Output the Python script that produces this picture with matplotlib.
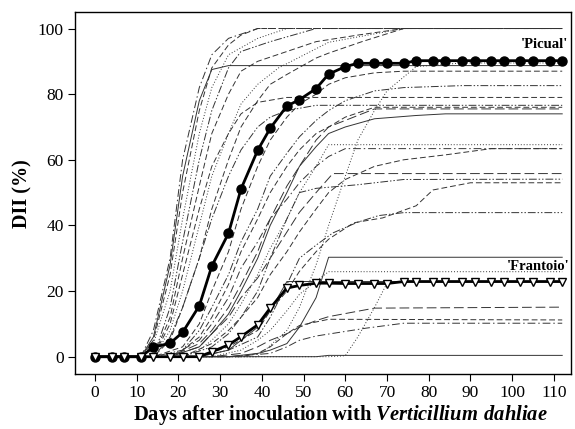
import matplotlib
matplotlib.use("Agg")
import matplotlib.pyplot as plt

plt.rcParams['font.family'] = ['Liberation Serif', 'DejaVu Serif']
plt.rcParams['mathtext.fontset'] = 'custom'
plt.rcParams['mathtext.rm'] = 'Liberation Serif'
plt.rcParams['mathtext.bfit'] = 'Liberation Serif:italic:bold'

# sampling days of the two highlighted cultivars
days = [0, 4, 7, 11, 14, 18, 21, 25, 28, 32, 35, 39, 42, 46, 49, 53, 56,
        60, 63, 67, 70, 74, 77, 81, 84, 88, 91, 95, 98, 102, 105, 109, 112]
picual = [0, 0, 0, 0, 2.9, 4.1, 7.4, 15.5, 27.6, 37.6, 51.1, 62.9, 69.6, 76.4,
          78.3, 81.7, 86.1, 88.4, 89.4, 89.4, 89.4, 89.4, 90.2, 90.2, 90.2,
          90.2, 90.2, 90.2, 90.2, 90.2, 90.2, 90.2, 90.2]
frantoio = [0, 0, 0, 0, 0, 0, 0, 0, 1.5, 3.6, 6.1, 9.7, 14.8, 20.9, 21.7,
            22.4, 22.4, 22.3, 22.3, 22.3, 22.3, 22.9, 22.9, 22.9, 22.9, 22.9,
            22.9, 22.9, 22.9, 22.9, 22.9, 22.9, 22.9]

# other cultivars (read at the turning points of each curve)
a1_d = [0, 11, 14, 18, 21, 25, 28, 32, 39, 112]
a1_v = [0, 0, 8, 30, 60, 82, 92, 97, 100, 100]
a2_d = [0, 11, 14, 18, 21, 25, 28, 32, 35, 39, 112]
a2_v = [0, 0, 5, 25, 50, 75, 88, 95, 98, 100, 100]
a3_d = [0, 11, 14, 18, 21, 25, 28, 32, 39, 46, 112]
a3_v = [0, 0, 4, 20, 42, 68, 82, 92, 97, 100, 100]
a4_d = [0, 11, 14, 18, 21, 25, 28, 32, 112]
a4_v = [0, 0, 6, 28, 55, 78, 87.5, 88.7, 88.7]
a5_d = [0, 14, 18, 21, 25, 28, 32, 35, 42, 53, 112]
a5_v = [0, 0, 15, 35, 60, 75, 88, 93, 96, 100, 100]
a6_d = [0, 14, 18, 21, 25, 28, 32, 35, 39, 46, 53, 63, 74, 112]
a6_v = [0, 0, 12, 30, 52, 68, 80, 87, 90, 93, 96, 98, 100, 100]
a7_d = [0, 14, 18, 21, 25, 28, 32, 35, 39, 42, 46, 53, 56, 64, 74, 112]
a7_v = [0, 0, 5, 15, 30, 45, 60, 70, 78, 83, 86, 91, 92.5, 96, 100, 100]
a8_d = [0, 14, 18, 21, 25, 28, 32, 35, 39, 44, 56, 74, 112]
a8_v = [0, 0, 8, 20, 40, 55, 68, 77, 83, 88, 95.8, 100, 100]
b1_d = [0, 14, 18, 21, 25, 28, 32, 35, 39, 46, 112]
b1_v = [0, 0, 10, 25, 45, 58, 68, 74, 77.5, 79, 79]
b2_d = [0, 14, 18, 21, 25, 28, 32, 35, 39, 42, 46, 53, 112]
b2_v = [0, 0, 6, 15, 30, 42, 55, 63, 70, 73, 75, 76.6, 76.6]
b3_d = [0, 14, 21, 25, 28, 32, 35, 39, 42, 46, 49, 53, 56, 60, 67, 74, 112]
b3_v = [0, 0, 3, 10, 20, 32, 45, 58, 66, 73, 77, 80, 83, 85, 86.5, 87, 87]
b4_d = [0, 14, 21, 25, 28, 32, 35, 39, 42, 46, 49, 53, 56, 60, 67, 74, 88, 112]
b4_v = [0, 0, 2, 8, 15, 25, 35, 45, 55, 62, 67, 72, 75, 78, 81, 82, 82.6, 82.6]
b5_d = [0, 18, 21, 25, 28, 32, 35, 39, 42, 46, 49, 53, 56, 60, 67, 112]
b5_v = [0, 0, 2, 6, 12, 22, 32, 42, 50, 58, 63, 68, 70, 73, 76, 76]
b6_d = [0, 18, 25, 28, 32, 35, 39, 42, 46, 49, 53, 56, 60, 67, 112]
b6_v = [0, 0, 4, 8, 15, 22, 32, 42, 52, 58, 66, 70, 72, 75.5, 75.5]
b7_d = [0, 18, 25, 28, 32, 35, 39, 42, 46, 49, 53, 56, 60, 67, 77, 84, 112]
b7_v = [0, 0, 3, 7, 13, 20, 30, 40, 50, 58, 64, 68, 70, 72.5, 73.5, 74, 74]
b8_d = [0, 39, 46, 49, 53, 56, 60, 63, 67, 70, 77, 88, 112]
b8_v = [0, 0, 8, 15, 28, 40, 55, 66, 75, 81, 88.4, 89.5, 89.5]
c1_d = [0, 21, 25, 28, 32, 35, 39, 42, 46, 49, 53, 56, 112]
c1_v = [0, 0, 2, 5, 10, 16, 25, 33, 42, 50, 58, 64.6, 64.6]
c2_d = [0, 18, 25, 28, 32, 35, 39, 42, 46, 49, 53, 56, 60, 112]
c2_v = [0, 0, 5, 10, 18, 27, 35, 42, 48, 53, 58, 61, 63.4, 63.4]
c3_d = [0, 21, 28, 32, 35, 39, 42, 46, 49, 53, 56, 60, 67, 74, 84, 95, 112]
c3_v = [0, 0, 4, 8, 12, 18, 25, 32, 38, 45, 50, 54, 58, 60, 61.5, 63.4, 63.4]
c4_d = [0, 18, 25, 28, 32, 35, 39, 42, 46, 49, 53, 57, 112]
c4_v = [0, 0, 3, 7, 12, 18, 24, 30, 38, 44, 50, 55.8, 55.8]
c5_d = [0, 21, 28, 32, 35, 39, 42, 46, 49, 53, 63, 74, 112]
c5_v = [0, 0, 3, 7, 12, 20, 30, 42, 50, 51.3, 52.4, 54, 54.1]
c6_d = [0, 25, 32, 39, 42, 46, 49, 53, 56, 62, 69, 77, 81, 90, 112]
c6_v = [0, 0, 3, 8, 14, 20, 26, 32, 35.8, 40.8, 42.3, 46, 50.8, 53, 53]
c7_d = [0, 25, 32, 39, 42, 46, 49, 53, 57, 63, 68, 74, 112]
c7_v = [0, 0, 2, 6, 12, 22, 30, 34, 37.7, 41, 43, 43.9, 43.9]
d1_d = [0, 32, 39, 42, 46, 49, 53, 56, 112]
d1_v = [0, 0, 1, 2, 4, 9, 18, 30.3, 30.3]
d2_d = [0, 28, 35, 39, 42, 46, 49, 53, 56, 112]
d2_v = [0, 0, 2, 5, 8, 14, 19, 23, 25.9, 25.9]
d3_d = [0, 25, 32, 35, 39, 42, 46, 112]
d3_v = [0, 0, 2, 5, 9, 14, 22.9, 22.9]
d4_d = [0, 56, 60, 63, 67, 70, 74, 112]
d4_v = [0, 0, 0.3, 6, 15, 22.4, 22.9, 22.9]
d5_d = [0, 28, 35, 39, 42, 46, 49, 53, 56, 67, 112]
d5_v = [0, 0, 1, 3, 5, 7, 9, 11, 12.2, 14.8, 15.1]
d6_d = [0, 35, 39, 42, 46, 49, 56, 112]
d6_v = [0, 0, 1, 3, 7, 9.5, 11.4, 11.2]
d7_d = [0, 32, 42, 46, 49, 53, 65, 74, 112]
d7_v = [0, 0, 1, 3, 5, 6.3, 8.7, 10.2, 10.2]
d8_d = [0, 53, 56, 112]
d8_v = [0, 0, 0.4, 0.4]

dash = (0, (6, 3))
longdash = (0, (10, 4))
dashdot = (0, (8, 3, 1.5, 3))
dashdotdot = (0, (8, 2, 1.5, 2, 1.5, 2))
dotted = (0, (1, 2))
solid = '-'

gray_curves = [
    (a1_d, a1_v, dashdot), (a2_d, a2_v, dash), (a3_d, a3_v, dotted),
    (a4_d, a4_v, solid), (a5_d, a5_v, dashdotdot), (a6_d, a6_v, dash),
    (a7_d, a7_v, dash), (a8_d, a8_v, dotted),
    (b1_d, b1_v, dash), (b2_d, b2_v, dashdotdot), (b3_d, b3_v, dash),
    (b4_d, b4_v, dashdotdot), (b5_d, b5_v, dash), (b6_d, b6_v, longdash),
    (b7_d, b7_v, solid), (b8_d, b8_v, dotted),
    (c1_d, c1_v, dotted), (c2_d, c2_v, dashdot), (c3_d, c3_v, dash),
    (c4_d, c4_v, longdash), (c5_d, c5_v, dashdotdot), (c6_d, c6_v, dash),
    (c7_d, c7_v, dashdotdot),
    (d1_d, d1_v, solid), (d2_d, d2_v, dotted), (d3_d, d3_v, solid),
    (d4_d, d4_v, dotted), (d5_d, d5_v, longdash), (d6_d, d6_v, dash),
    (d7_d, d7_v, dashdot), (d8_d, d8_v, solid),
]

fig = plt.figure(figsize=(5.75, 4.29), dpi=100)
ax = fig.add_axes([0.1304, 0.128, 0.8626, 0.843])

for d, v, ls in gray_curves:
    ax.plot(d, v, color='0.2', lw=0.7, linestyle=ls, zorder=2)

ax.plot(days, picual, color='black', lw=2, marker='o', markersize=6.5,
        markerfacecolor='black', markeredgecolor='black', zorder=4)
ax.plot(days, frantoio, color='black', lw=2, marker='v', markersize=6,
        markerfacecolor='white', markeredgecolor='black', markeredgewidth=1,
        zorder=5)

ax.text(113.4, 95, "'Picual'", ha='right', va='center', fontsize=10.5,
        fontweight='bold')
ax.text(113.8, 27.5, "'Frantoio'", ha='right', va='center', fontsize=10.5,
        fontweight='bold')

ax.set_xlim(-4.8, 114.1)
ax.set_ylim(-5.3, 104.9)
ax.set_xticks(range(0, 111, 10))
ax.set_yticks(range(0, 101, 20))
ax.tick_params(direction='out', length=5, width=0.8, labelsize=12.5, pad=3)
for s in ax.spines.values():
    s.set_linewidth(1)

ax.set_ylabel('DII (%)', fontsize=14.5, fontweight='bold', labelpad=4)
ax.set_xlabel('Days after inoculation with $\\mathbfit{Verticillium\\ dahliae}$',
              fontsize=14.8, fontweight='bold', labelpad=1)
ax.xaxis.label.set_x(0.535)

fig.savefig('out.png', dpi=100)
